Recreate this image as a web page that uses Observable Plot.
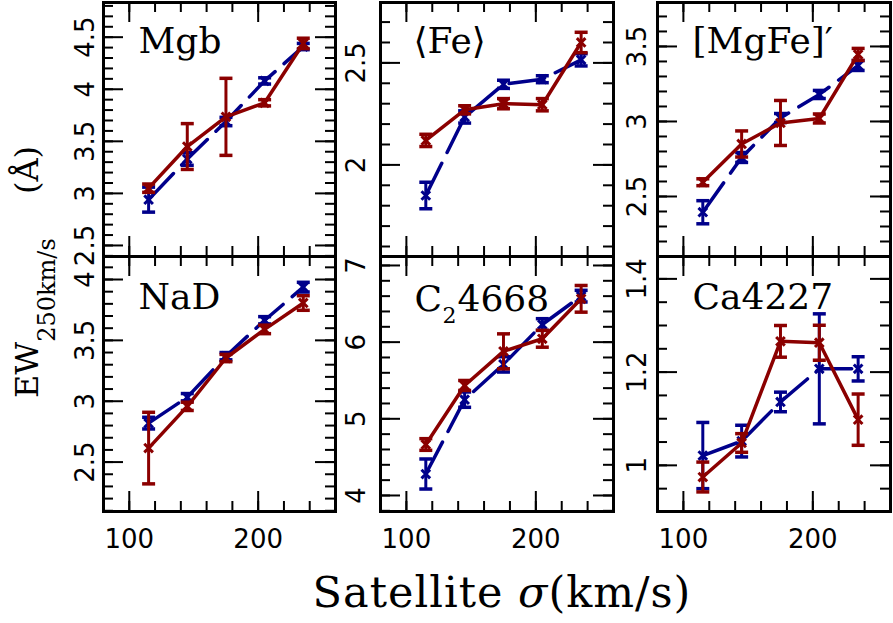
<!DOCTYPE html>
<html>
<head>
<meta charset="utf-8">
<script src="https://cdn.jsdelivr.net/npm/d3@7"></script>
<script src="https://cdn.jsdelivr.net/npm/@observablehq/plot@0.6"></script>
<style>
  html, body { margin: 0; padding: 0; background: #fff; }
  #fig { position: relative; width: 893px; height: 623px; overflow: hidden; background: #fff; }
  #fig svg { position: absolute; max-width: none; }
</style>
</head>
<body>
<div id="fig"></div>
<script>
// Satellite velocity-dispersion bins (km/s)
const sigma = [115, 145, 175, 205, 235];

// Equivalent widths (Å) with 1-sigma errors; red = solid series, blue = dashed series
const mgbRed = [3.05, 3.45, 3.735, 3.87, 4.44];
const mgbRedErr = [0.04, 0.22, 0.37, 0.03, 0.05];
const mgbBlue = [2.94, 3.33, 3.69, 4.08, 4.41];
const mgbBlueErr = [0.12, 0.06, 0.04, 0.03, 0.03];

const feRed = [2.12, 2.27, 2.30, 2.295, 2.60];
const feRedErr = [0.03, 0.02, 0.025, 0.03, 0.05];
const feBlue = [1.85, 2.235, 2.395, 2.42, 2.515];
const feBlueErr = [0.065, 0.03, 0.02, 0.017, 0.03];

const mgfeRed = [2.595, 2.85, 2.99, 3.02, 3.447];
const mgfeRedErr = [0.023, 0.087, 0.15, 0.03, 0.04];
const mgfeBlue = [2.395, 2.76, 3.023, 3.18, 3.373];
const mgfeBlueErr = [0.077, 0.033, 0.03, 0.027, 0.033];

const nadRed = [2.615, 2.958, 3.355, 3.59, 3.807];
const nadRedErr = [0.294, 0.034, 0.03, 0.035, 0.06];
const nadBlue = [2.82, 3.033, 3.37, 3.665, 3.937];
const nadBlueErr = [0.048, 0.03, 0.03, 0.03, 0.04];

const c2Red = [4.665, 5.435, 5.88, 6.044, 6.565];
const c2RedErr = [0.076, 0.065, 0.228, 0.11, 0.174];
const c2Blue = [4.28, 5.25, 5.71, 6.23, 6.6];
const c2BlueErr = [0.196, 0.1, 0.1, 0.076, 0.076];

const caRed = [0.975, 1.048, 1.266, 1.263, 1.098];
const caRedErr = [0.032, 0.02, 0.034, 0.0375, 0.055];
const caBlue = [1.021, 1.052, 1.136, 1.207, 1.207];
const caBlueErr = [0.071, 0.034, 0.021, 0.118, 0.026];

// Tick labels
const xTickLabels = [100, 200];
const mgbTicks = [2.5, 3, 3.5, 4, 4.5];
const feTicks = [2, 2.5];
const mgfeTicks = [2.5, 3, 3.5];
const nadTicks = [2.5, 3, 3.5, 4];
const c2Ticks = [4, 5, 6, 7];
const caTicks = [1, 1.2, 1.4];

// ---- layout & style ----
const RED = "#8b0000", BLUE = "#00008b";
const SERIF = "DejaVu Serif, serif", SANS = "DejaVu Sans, sans-serif";
const xDomain = [80, 260];
const xMinor = d3.range(80, 261, 20);
const cols = [[103, 335, 18], [380, 613, 24], [657, 890, 20]];
const rowsY = [[2, 256], [256, 511]];
const DASH = "36,12";

const panels = [
  {col: 0, row: 0, y: [2.394, 4.833], major: mgbTicks, minor: 0.1, red: mgbRed, redErr: mgbRedErr, blue: mgbBlue, blueErr: mgbBlueErr,
   title: [{t: "Mgb", dx: 35, dy: 50, size: 36}]},
  {col: 1, row: 0, y: [1.551, 2.796], major: feTicks, minor: 0.1, red: feRed, redErr: feRedErr, blue: feBlue, blueErr: feBlueErr,
   title: [{t: "⟨Fe⟩", dx: 33, dy: 50, size: 36}]},
  {col: 2, row: 0, y: [2.1, 3.793], major: mgfeTicks, minor: 0.1, red: mgfeRed, redErr: mgfeRedErr, blue: mgfeBlue, blueErr: mgfeBlueErr,
   title: [{t: "[MgFe]′", dx: 35, dy: 50, size: 36}]},
  {col: 0, row: 1, y: [2.094, 4.189], major: nadTicks, minor: 0.1, red: nadRed, redErr: nadRedErr, blue: nadBlue, blueErr: nadBlueErr,
   title: [{t: "NaD", dx: 35, dy: 52, size: 36}]},
  {col: 1, row: 1, y: [3.791, 7.117], major: c2Ticks, minor: 0.2, red: c2Red, redErr: c2RedErr, blue: c2Blue, blueErr: c2BlueErr,
   title: [{t: "C", dx: 34, dy: 54, size: 36}, {t: "2", dx: 62, dy: 66, size: 22}, {t: "4668", dx: 77, dy: 54, size: 36}]},
  {col: 2, row: 1, y: [0.901, 1.448], major: caTicks, minor: 0.05, red: caRed, redErr: caRedErr, blue: caBlue, blueErr: caBlueErr,
   title: [{t: "Ca4227", dx: 35, dy: 52, size: 36}]}
];

// horizontal bar used as error-bar cap
const capSymbol = {
  draw(ctx, size) {
    const r = Math.sqrt(size / Math.PI);
    ctx.moveTo(-r, 0);
    ctx.lineTo(r, 0);
  }
};

function seriesMarks(values, errors, color, dash) {
  const data = sigma.map((s, i) => ({s, v: values[i], e: errors[i]}));
  return [
    Plot.line(data, {x: "s", y: "v", stroke: color, strokeWidth: 3.5, strokeDasharray: dash}),
    Plot.ruleX(data, {x: "s", y1: d => d.v - d.e, y2: d => d.v + d.e, stroke: color, strokeWidth: 3}),
    Plot.dot(data, {x: "s", y: d => d.v - d.e, symbol: capSymbol, r: 6.5, stroke: color, strokeWidth: 3.5, fill: "none"}),
    Plot.dot(data, {x: "s", y: d => d.v + d.e, symbol: capSymbol, r: 6.5, stroke: color, strokeWidth: 3.5, fill: "none"}),
    Plot.dot(data, {x: "s", y: "v", symbol: "times", r: 4, stroke: color, strokeWidth: 3})
  ];
}

function stepTicks(lo, hi, step) {
  const out = [];
  for (let k = Math.ceil(lo / step - 1e-6); k * step <= hi + 1e-9; k++) out.push(+(k * step).toFixed(4));
  return out;
}

const fig = document.getElementById("fig");
const M = {top: 12, right: 12, bottom: 50, left: 50};

for (const p of panels) {
  const [x0, x1, labelOff] = cols[p.col];
  const [y0, y1] = rowsY[p.row];
  const W = x1 - x0, H = y1 - y0;
  const minorY = stepTicks(p.y[0], p.y[1], p.minor);
  const tickStyle = {stroke: "black", strokeWidth: 2};
  const marks = [
    // y ticks, left and right edges
    Plot.tickY(minorY, {y: d => d, insetRight: W - 10, ...tickStyle}),
    Plot.tickY(minorY, {y: d => d, insetLeft: W - 10, ...tickStyle}),
    Plot.tickY(p.major, {y: d => d, insetRight: W - 20, ...tickStyle}),
    Plot.tickY(p.major, {y: d => d, insetLeft: W - 20, ...tickStyle}),
    // x ticks, top and bottom edges
    Plot.tickX(xMinor, {x: d => d, insetTop: H - 10, ...tickStyle}),
    Plot.tickX(xMinor, {x: d => d, insetBottom: H - 10, ...tickStyle}),
    Plot.tickX(xTickLabels, {x: d => d, insetTop: H - 20, ...tickStyle}),
    Plot.tickX(xTickLabels, {x: d => d, insetBottom: H - 20, ...tickStyle}),
    Plot.frame({stroke: "black", strokeWidth: 3}),
    ...seriesMarks(p.blue, p.blueErr, BLUE, DASH),
    ...seriesMarks(p.red, p.redErr, RED, null),
    ...p.title.map(part => Plot.text([part.t], {
      text: d => d, frameAnchor: "top-left", dx: part.dx, dy: part.dy,
      textAnchor: "start", lineAnchor: "bottom", fontFamily: SERIF, fontSize: part.size,
      fill: "black", letterSpacing: 1
    })),
    Plot.text(p.major, {
      y: d => d, text: d => String(d), frameAnchor: "left", dx: -labelOff,
      rotate: -90, textAnchor: "middle", lineAnchor: "middle",
      fontFamily: SANS, fontSize: 26, fill: "black"
    })
  ];
  if (p.row === 1) {
    marks.push(Plot.text(xTickLabels, {
      x: d => d, text: d => String(d), frameAnchor: "bottom", dy: 28,
      textAnchor: "middle", lineAnchor: "middle", fontFamily: SANS, fontSize: 26, fill: "black"
    }));
  }
  const svg = Plot.plot({
    width: W + M.left + M.right,
    height: H + M.top + M.bottom,
    marginTop: M.top, marginRight: M.right, marginBottom: M.bottom, marginLeft: M.left,
    x: {domain: xDomain, axis: null},
    y: {domain: p.y, axis: null},
    style: {background: "transparent", overflow: "visible"},
    marks
  });
  svg.style.left = (x0 - M.left) + "px";
  svg.style.top = (y0 - M.top) + "px";
  fig.appendChild(svg);
}

// Shared axis titles
const titles = d3.select(fig).append("svg")
  .attr("width", 893).attr("height", 623)
  .style("left", "0px").style("top", "0px").style("pointer-events", "none");

const xt = titles.append("text")
  .attr("x", 502).attr("y", 607).attr("text-anchor", "middle")
  .attr("font-family", SERIF).attr("font-size", 43).attr("letter-spacing", 1)
  .attr("fill", "black");
xt.append("tspan").text("Satellite ");
xt.append("tspan").attr("font-style", "italic").text("σ");
xt.append("tspan").text("(km/s)");

const yt = titles.append("g").attr("transform", "translate(38,398) rotate(-90)");
const ytMain = yt.append("text").attr("x", 0).attr("y", 0)
  .attr("font-family", SERIF).attr("font-size", 32).attr("fill", "black");
ytMain.append("tspan").text("EW");
ytMain.append("tspan").attr("dy", 17).attr("font-size", 24).text("250km/s");
yt.append("text").attr("x", 252).attr("y", 0).attr("text-anchor", "end")
  .attr("font-family", SERIF).attr("font-size", 32).attr("fill", "black").text("(Å)");
</script>
</body>
</html>
